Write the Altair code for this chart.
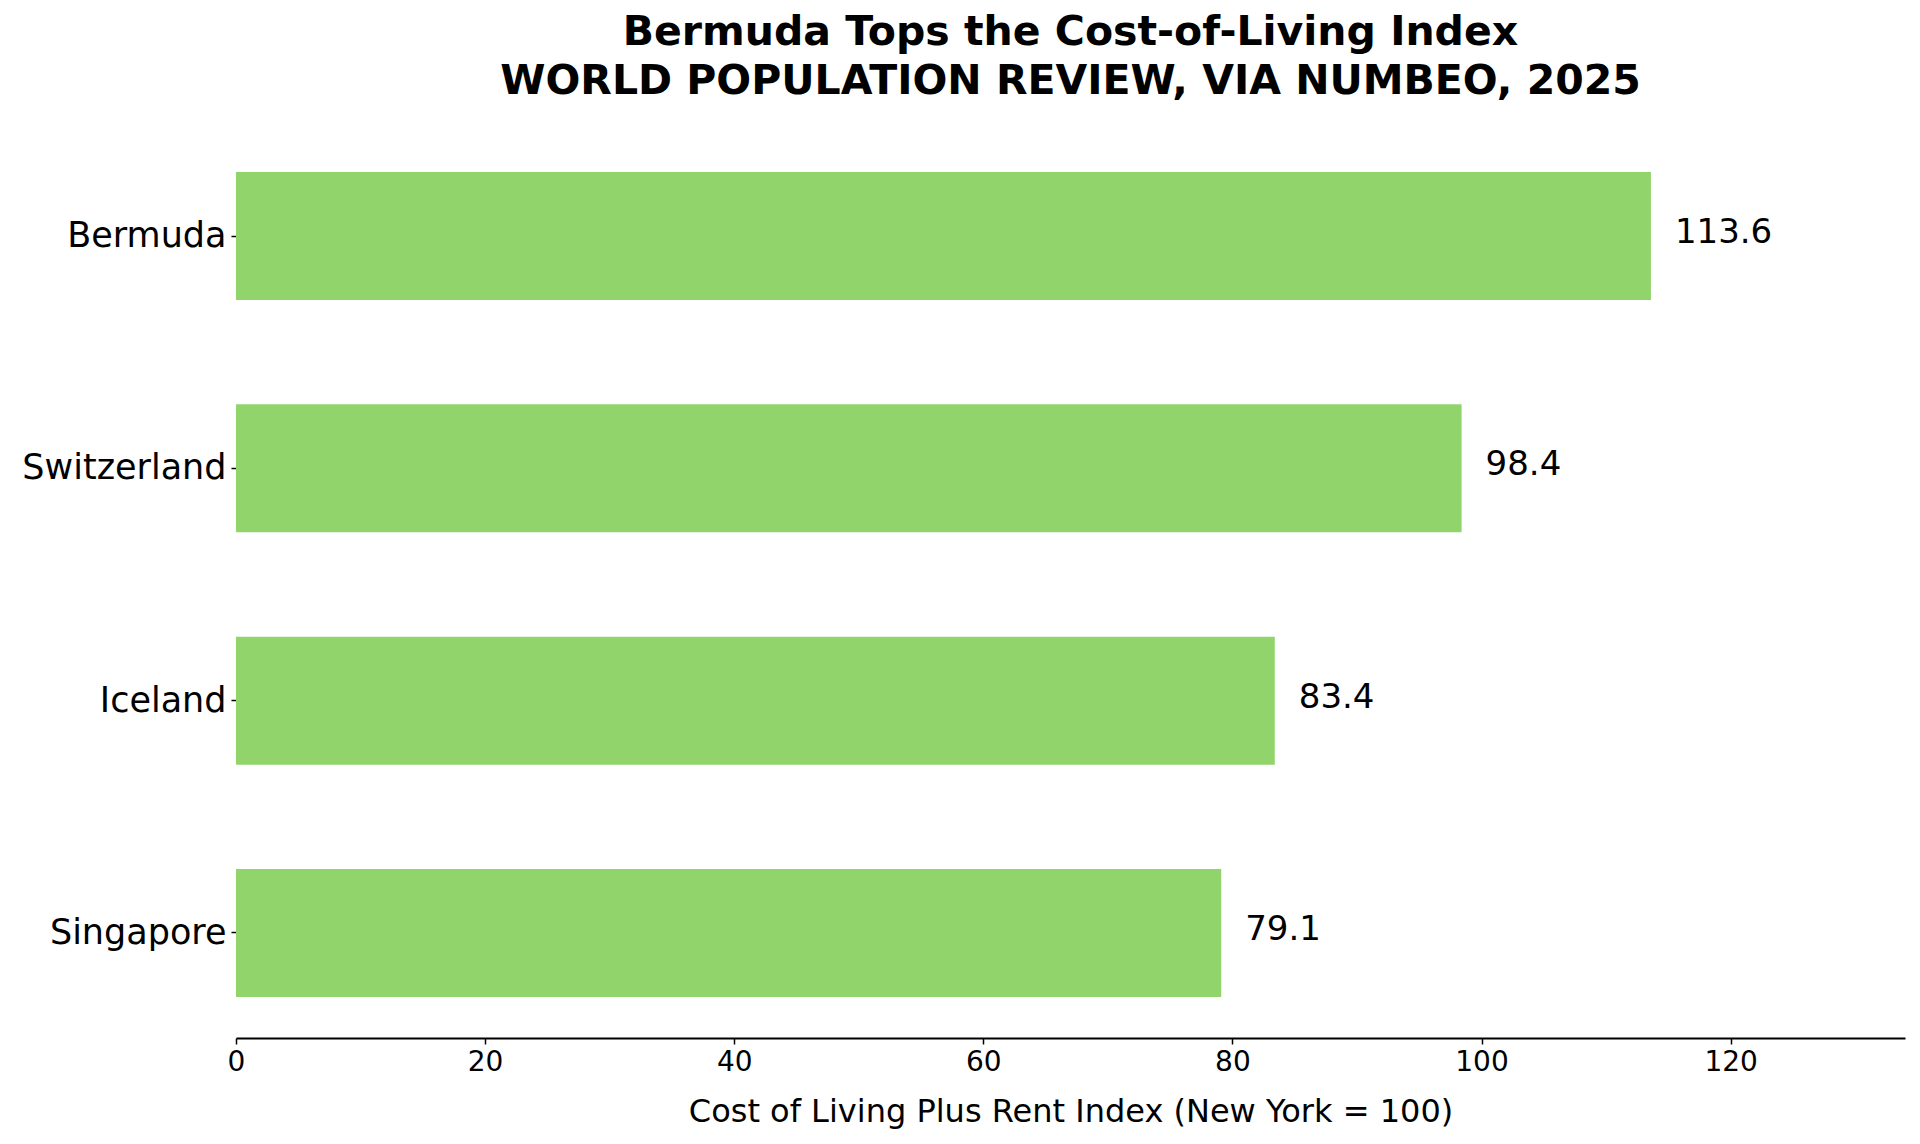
import altair as alt
import pandas as pd

countries = ["Bermuda", "Switzerland", "Iceland", "Singapore"]
values = [113.6, 98.4, 83.4, 79.1]
x_ticks = [0, 20, 40, 60, 80, 100, 120]
title_lines = ["Bermuda Tops the Cost-of-Living Index", "WORLD POPULATION REVIEW, VIA NUMBEO, 2025"]
x_title = "Cost of Living Plus Rent Index (New York = 100)"

df = pd.DataFrame({"country": countries, "value": values})

FONT = "DejaVu Sans"
GREEN = "#91d46c"

y_enc = alt.Y(
    "country:N",
    sort=countries,
    title=None,
    scale=alt.Scale(paddingInner=0.449, paddingOuter=0.1765),
    axis=alt.Axis(
        domain=False,
        ticks=True,
        tickColor="black",
        tickSize=5,
        tickWidth=1.5,
        labelFont=FONT,
        labelFontSize=35,
        labelColor="black",
        labelPadding=5,
        labelLimit=0,
        grid=False,
    ),
)

x_enc = alt.X(
    "value:Q",
    title=x_title,
    scale=alt.Scale(domain=[0, 134], nice=False, zero=True),
    axis=alt.Axis(
        values=x_ticks,
        format="d",
        domain=True,
        domainColor="black",
        domainWidth=2,
        ticks=True,
        tickColor="black",
        tickSize=6,
        tickWidth=1.5,
        labelFont=FONT,
        labelFontSize=28,
        labelColor="black",
        labelPadding=4,
        labelFlush=False,
        titleFont=FONT,
        titleFontSize=32,
        titleFontWeight="normal",
        titleColor="black",
        titlePadding=20,
        grid=False,
    ),
)

bars = alt.Chart(df).mark_bar(color=GREEN).encode(x=x_enc, y=y_enc)

labels = alt.Chart(df).mark_text(
    align="left", baseline="middle", dx=24, dy=-3, font=FONT, fontSize=34, color="black"
).encode(
    x=alt.X("value:Q"),
    y=alt.Y("country:N", sort=countries),
    text=alt.Text("value:Q", format=".1f"),
)

chart = (
    alt.layer(bars, labels)
    .properties(
        width=1669,
        height=907,
        background="transparent",
        autosize=alt.AutoSizeParams(type="none"),
        padding={"left": 228, "top": 123, "right": 5, "bottom": 95},
        title=alt.TitleParams(
            text=title_lines,
            font=FONT,
            fontSize=41,
            fontWeight="bold",
            color="black",
            anchor="middle",
            frame="group",
            offset=28,
            lineHeight=49,
        ),
    )
    .configure_view(stroke=None)
)

chart.save("out.html", embed_options={"renderer": "svg", "actions": False})
